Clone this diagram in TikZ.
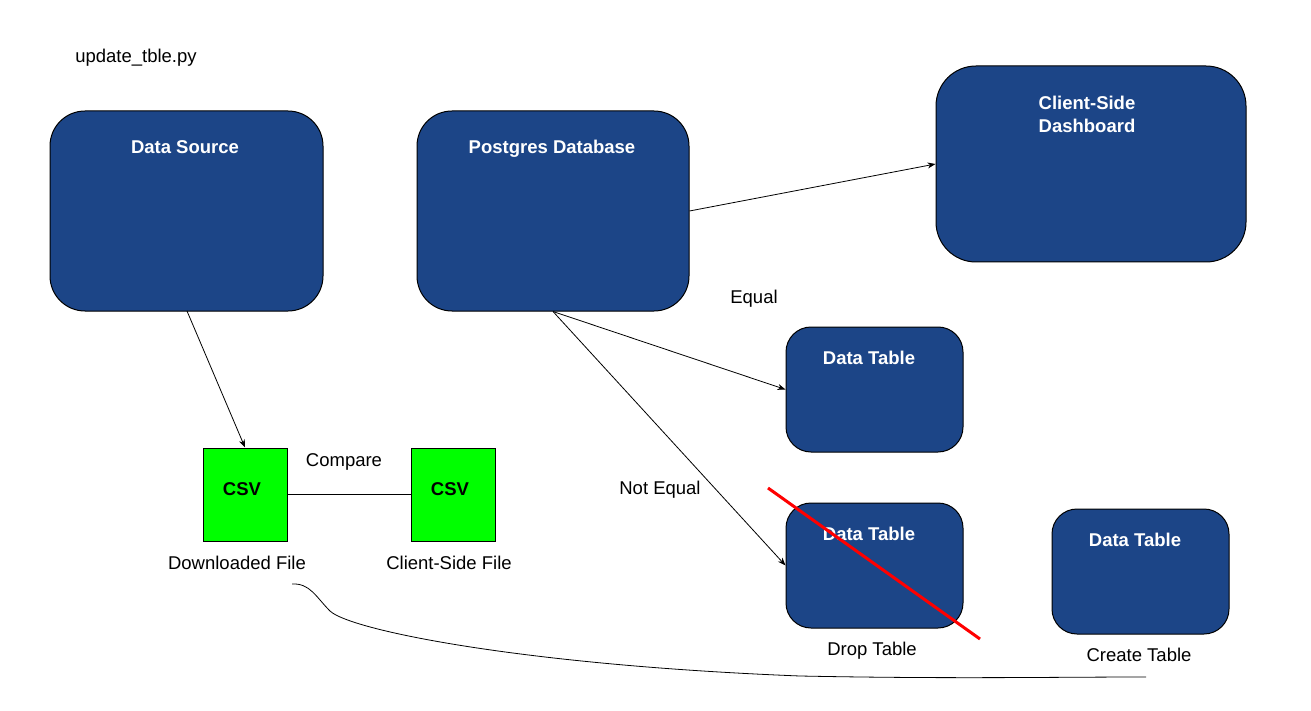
\documentclass[tikz,border=0pt]{standalone}
\usepackage{fontspec}
\setmainfont{Liberation Sans}
\usetikzlibrary{arrows.meta}
\definecolor{dblue}{HTML}{1C4587}
\definecolor{cgreen}{HTML}{00FF00}
\definecolor{cred}{HTML}{FF0000}
\begin{document}
\begin{tikzpicture}[x=1pt,y=-1pt,
  box/.style={draw=black,line width=1pt,fill=dblue,rectangle,inner sep=0pt},
  csvbox/.style={draw=black,line width=1pt,fill=cgreen,rectangle,inner sep=0pt,minimum width=84pt,minimum height=93pt},
  title/.style={text=white,font=\fontsize{18.5}{23}\selectfont\bfseries,align=center,inner sep=0pt,text depth=0pt},
  lbl/.style={text=black,font=\fontsize{18.5}{23}\selectfont,inner sep=0pt,text depth=0pt},
  arr/.style={draw=black,line width=0.8pt,-{Stealth[length=8pt,width=6pt]}},
  conn/.style={draw=black,line width=0.8pt}]
\useasboundingbox (0,0) rectangle (1311,711);
\fill[white] (0,0) rectangle (1311,711);

% boxes
\node[box,rounded corners=35pt,minimum width=273pt,minimum height=200pt] (src) at (186.5,211) {};
\node[box,rounded corners=35pt,minimum width=272pt,minimum height=200pt] (pg) at (553,211) {};
\node[box,rounded corners=40pt,minimum width=310pt,minimum height=196pt] (dash) at (1091,164) {};
\node[box,rounded corners=25pt,minimum width=177pt,minimum height=125pt] (dt1) at (874.5,389.5) {};
\node[box,rounded corners=25pt,minimum width=177pt,minimum height=125pt] (dt2) at (874.5,565.5) {};
\node[box,rounded corners=25pt,minimum width=177pt,minimum height=125pt] (dt3) at (1140.5,571.5) {};
\node[csvbox] (csv1) at (245,494.5) {};
\node[csvbox] (csv2) at (453,494.5) {};

% titles
\node[title] (tsrc) at (185,147) {Data Source};
\node[title] (tpg) at (552,147) {Postgres Database};
\node[title] (tdash) at (1087,114.5) {Client-Side\\Dashboard};
\node[title] (tdt1) at (869,358) {Data Table};
\node[title] (tdt2) at (869,534) {Data Table};
\node[title] (tdt3) at (1135,540) {Data Table};
\node[title,text=black] (tcsv1) at (242,489) {CSV};
\node[title,text=black] (tcsv2) at (450,489) {CSV};

% labels
\node[lbl] (lupd) at (136,56) {update\_tble.py};
\node[lbl] (lcmp) at (344,460) {Compare};
\node[lbl] (leq) at (754,297) {Equal};
\node[lbl] (lneq) at (660,488) {Not Equal};
\node[lbl] (ldl) at (237,563) {Downloaded File};
\node[lbl] (lcf) at (449,563) {Client-Side File};
\node[lbl] (ldrop) at (872,649) {Drop Table};
\node[lbl] (lcreate) at (1139,655) {Create Table};

% connectors
\draw[arr] (187,311) -- (csv1.north);
\draw[arr] (pg.east |- 0,211) -- (dash.west |- 0,164);
\draw[arr] (pg.south) -- (dt1.west);
\draw[arr] (pg.south) -- (dt2.west);
\draw[conn] (csv1.east) -- (csv2.west);

% red cross line
\coordinate (r1) at (768,488);
\coordinate (r2) at (980,639);
\draw[cred,line width=3pt] (r1) -- (r2);

% curve
\coordinate (c1) at (292,584);
\coordinate (c2) at (330,611);
\coordinate (c3) at (1146,677);
\draw[conn] (c1) .. controls (310,583) and (316,597) .. (c2)
  .. controls (350,630) and (520,665) .. (800,676) .. controls (950,679) and (1050,677) .. (c3);
\end{tikzpicture}
\end{document}
